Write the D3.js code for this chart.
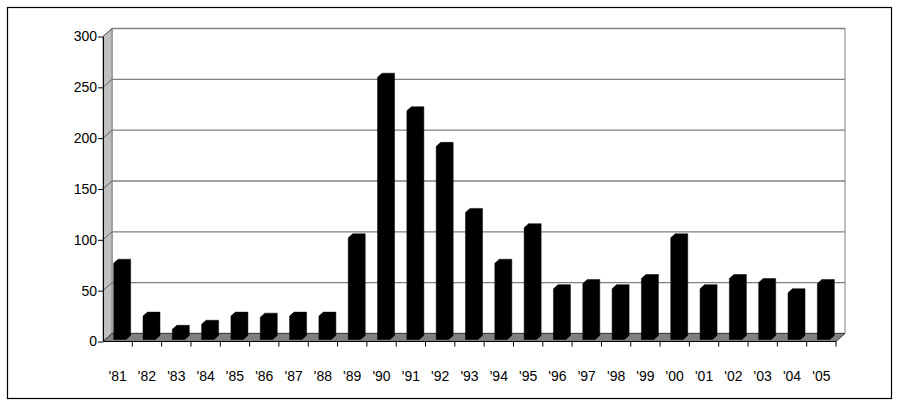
<!DOCTYPE html>
<html><head><meta charset="utf-8">
<script src="https://cdn.jsdelivr.net/npm/d3@7"></script>
<style>html,body{margin:0;padding:0;background:#fff;}svg{display:block;}</style>
</head><body>
<svg id="chart" width="900" height="406"></svg>
<script>
const categories = ["'81","'82","'83","'84","'85","'86","'87","'88","'89","'90","'91","'92","'93","'94","'95","'96","'97","'98","'99","'00","'01","'02","'03","'04","'05"];
const values = [75,23,10,15,23,22,23,23,100,258,225,190,125,75,110,50,55,50,60,100,50,60,56,46,55];
const yTicks = [0,50,100,150,200,250,300];

(function () {
const svg = d3.select("#chart");
const pL = 103, pR = 836, pT = 36.5, pB = 341.5;
const DX = 9, DY = -8; // depth offset of back wall
const font = "'Liberation Sans', Arial, sans-serif";

svg.append("rect").attr("x", 7.5).attr("y", 7.5).attr("width", 884).attr("height", 391)
  .attr("fill", "#fff").attr("stroke", "#000").attr("stroke-width", 1.2);

const y = d3.scaleLinear().domain([0, 300]).range([pB, pT]);
const xCat = d3.scaleBand().domain(categories).range([pL, pR]).padding(0);
const xBar = d3.scaleBand().domain(categories).range([pL, pR]).paddingInner(0.574).paddingOuter(0.287);

// back wall
svg.append("rect").attr("x", pL + DX).attr("y", pT + DY)
  .attr("width", pR - pL).attr("height", pB - pT)
  .attr("fill", "#fff").attr("stroke", "#808080").attr("stroke-width", 1);
// left wall
svg.append("polygon")
  .attr("points", [[pL, pT],[pL + DX, pT + DY],[pL + DX, pB + DY],[pL, pB]].join(" "))
  .attr("fill", "#c0c0c0").attr("stroke", "#808080").attr("stroke-width", 1);
// gridlines on back wall and left wall
yTicks.forEach(t => {
  svg.append("line").attr("x1", pL + DX).attr("x2", pR + DX)
    .attr("y1", y(t) + DY).attr("y2", y(t) + DY)
    .attr("stroke", "#808080").attr("stroke-width", 1.3);
  svg.append("line").attr("x1", pL).attr("x2", pL + DX)
    .attr("y1", y(t)).attr("y2", y(t) + DY)
    .attr("stroke", "#606060").attr("stroke-width", 1);
});
// floor
svg.append("polygon")
  .attr("points", [[pL, pB],[pL + DX, pB + DY],[pR + DX, pB + DY],[pR, pB]].join(" "))
  .attr("fill", "#808080").attr("stroke", "#404040").attr("stroke-width", 1);

// bars
const bf = 0.25, bd = 0.5;
const fx = DX * bf, fy = DY * bf, sx = DX * bd, sy = DY * bd;
svg.append("g").selectAll("polygon").data(values).join("polygon")
  .attr("points", (d, i) => {
    const x0 = xBar(categories[i]) + fx, x1 = x0 + xBar.bandwidth();
    const yb = y(0) + fy, yt = y(d) + fy;
    return [[x0, yb],[x0, yt],[x0 + sx, yt + sy],[x1 + sx, yt + sy],[x1 + sx, yb + sy],[x1, yb]].join(" ");
  })
  .attr("fill", "#000").attr("stroke", "#000").attr("stroke-width", 0.5);

// y axis
const yAxis = d3.axisLeft(y).tickValues(yTicks).tickSize(5).tickPadding(1).tickSizeOuter(0);
const gy = svg.append("g").attr("transform", `translate(${pL},0)`).call(yAxis);
gy.select(".domain").attr("stroke", "#000");
gy.selectAll(".tick line").attr("stroke", "#000");
gy.selectAll("text").attr("font-family", font).attr("font-size", 14).attr("fill", "#000");

// x axis line and boundary ticks
svg.append("line").attr("x1", pL).attr("x2", pR).attr("y1", pB).attr("y2", pB).attr("stroke", "#000");
const bounds = categories.map(c => xCat(c)).concat([pR]);
svg.append("g").selectAll("line").data(bounds.slice(1)).join("line")
  .attr("x1", d => d).attr("x2", d => d).attr("y1", pB).attr("y2", pB + 5)
  .attr("stroke", "#000");
svg.append("g").selectAll("text").data(categories).join("text")
  .attr("x", d => xCat(d) + xCat.bandwidth() / 2).attr("y", 381)
  .attr("text-anchor", "middle").attr("font-family", font).attr("font-size", 14)
  .attr("fill", "#000").text(d => d);
})();
</script>
</body></html>
